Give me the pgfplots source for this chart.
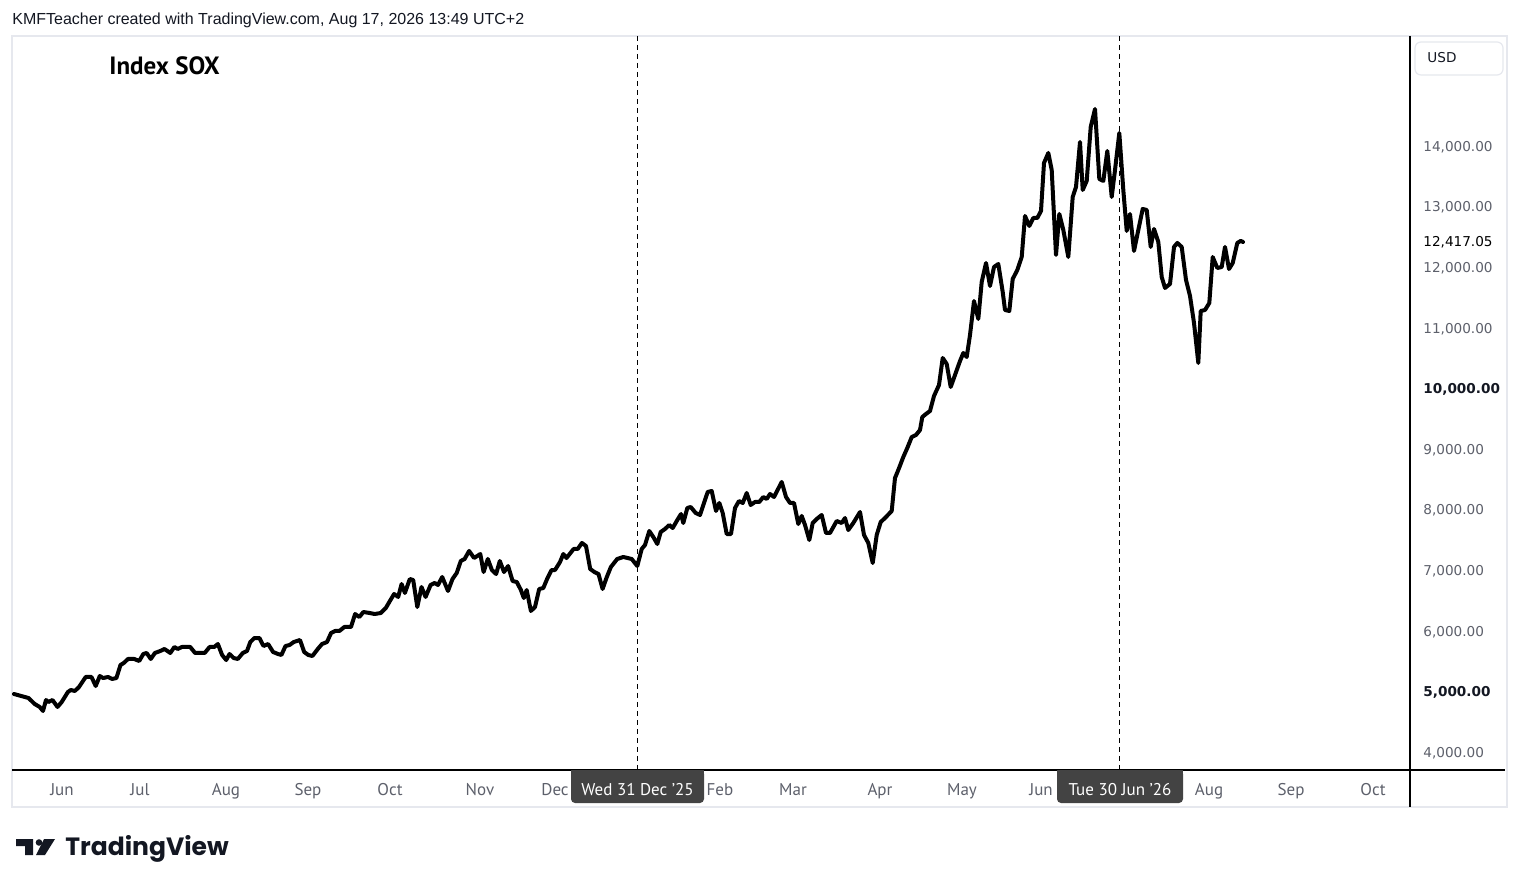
\documentclass[border=0pt]{standalone}
\usepackage{pgfplots}
\pgfplotsset{compat=1.18}
\usepackage{pgfplotstable}
\usepackage{fontspec}
\setmainfont{PT Sans}
\newfontfamily\dejavu{DejaVu Sans}
\newfontfamily\libsans{Liberation Sans}
\newfontfamily\poppins{Poppins}
\definecolor{tvgray}{HTML}{5D606B}
\definecolor{tvdark}{HTML}{131722}
\definecolor{tvbox}{HTML}{434343}
\definecolor{tvborder}{HTML}{E6E8EE}

\pgfplotstableread{
x y
14 4957
28.5 4891
34.7 4792
39.7 4743
43 4677
46 4858
48.4 4825
52.5 4858
57.5 4743
61.7 4825
67.9 4990
70.8 5023
74.9 5007
79 5073
85.7 5238
91.5 5238
95.7 5089
99.8 5254
103.1 5221
108.1 5238
112.2 5205
116.4 5221
120.5 5436
123.8 5469
128 5535
134.2 5535
139.2 5502
143.3 5617
146.6 5634
150.8 5535
154.9 5634
160.3 5667
164.5 5700
170.3 5634
174.4 5733
177.7 5700
181.9 5733
190.2 5733
195.1 5634
204.7 5634
209.6 5733
214.2 5733
217.9 5782
222.1 5601
226.2 5518
229.5 5617
233.7 5551
237.8 5535
242.8 5634
247 5667
250.3 5815
254.4 5881
259.4 5881
263.5 5749
268.1 5782
273.1 5650
278 5617
281.4 5601
285.5 5749
289.6 5766
293.8 5815
300 5848
304.2 5650
308.3 5601
312.4 5584
317.8 5700
322 5782
327 5815
331.1 5964
335.2 5997
339.4 5997
344.4 6063
351 6063
355.1 6277
359.3 6228
363.4 6310
369.6 6294
374.6 6277
380.8 6294
385.8 6376
389.9 6492
394.1 6607
398.2 6558
401.6 6772
404.9 6624
409.8 6855
413.2 6838
417.3 6393
421.5 6723
425.6 6558
430.6 6756
434.7 6789
438 6756
442.2 6888
448 6657
452.5 6855
456.7 6954
460.8 7152
464.6 7185
469.1 7317
474.1 7201
480.3 7267
483.6 6970
487.8 7185
491.9 7003
496.1 6937
499.8 7152
504 6970
508.1 7069
512.6 6822
516.8 6805
520.9 6673
523.8 6541
526.7 6673
530.9 6327
535 6393
539.2 6690
543.3 6706
547.5 6871
551.6 7003
555 7003
560 7135
563.3 7267
566.5 7201
573.6 7350
577.7 7350
581.9 7449
586 7399
590.2 7020
594.4 6970
598.5 6937
602.6 6690
606.8 6888
610.9 7053
617.2 7185
623.3 7218
631.7 7185
637.3 7069
641.7 7350
645 7416
649.3 7647
653.3 7548
657.3 7432
660.7 7630
665 7680
669.3 7746
672.7 7696
677.3 7828
681 7927
683.3 7779
687.3 8026
690.7 8043
695.7 7944
700 7911
704 8109
707.7 8291
711.7 8307
716 7977
719.3 8109
722.7 7944
726.7 7597
731 7597
735 8026
739 8142
742.7 8109
746.7 8274
750.7 8076
755 8126
759.3 8126
763.3 8208
766.7 8175
770 8258
774 8208
781.7 8456
786 8208
790 8109
794 8109
798.3 7762
801.7 7895
805 7746
809.3 7498
812.7 7779
816.7 7845
821.7 7911
826 7614
830 7614
836.7 7812
841.7 7779
845 7861
848.3 7663
853.3 7779
860 7960
864 7581
868.3 7449
872.7 7119
876.7 7581
880.7 7795
885 7861
891.7 7977
895 8522
898.3 8654
903.3 8868
907.3 9017
911.7 9198
916 9231
920 9314
922.3 9528
926 9578
930 9627
934 9875
939 10056
942.7 10502
946.7 10403
950.7 10023
955 10221
960 10452
963.3 10584
966.7 10518
970 10881
974 11442
978.3 11145
981.7 11756
986 12069
990 11690
994 12003
998.3 12053
1002.7 11591
1005 11294
1009.3 11277
1012.7 11805
1017.3 11954
1021.7 12168
1025 12845
1029.3 12680
1033.3 12812
1037.3 12812
1041 12928
1044 13720
1048.3 13885
1051.7 13604
1056 12202
1059.3 12878
1063.3 12614
1068.3 12168
1072.7 13159
1076 13324
1080 14066
1082.7 13274
1086.7 13423
1090.7 14314
1095 14611
1099.3 13456
1103.3 13423
1107.3 13918
1111.7 13159
1115 13604
1119.3 14215
1123.3 13274
1126.7 12598
1130 12878
1134 12268
1138.3 12614
1142.7 12961
1146.7 12944
1150.7 12334
1154 12631
1158.3 12416
1161.7 11838
1165 11657
1170 11723
1174 12334
1177.3 12400
1181.7 12334
1186 11789
1190 11525
1194 11079
1198.3 10419
1200.7 11277
1205 11294
1209.3 11409
1212.7 12168
1217.3 11987
1221.7 12003
1225 12334
1229 11970
1232.7 12069
1237.3 12400
1240.7 12433
1243 12417
}\sox

\begin{document}
\begin{tikzpicture}
\path[use as bounding box, fill=white] (0,0) rectangle (760pt,444.5pt);
\begin{scope}[x=0.5pt,y=-0.5pt,shift={(0pt,444.5pt)}]
  % pane border
  \draw[tvborder, line width=0.75pt] (12,36) rectangle (1507,807);
  % header
  \node[anchor=base west, inner sep=0pt, text=tvdark, font=\libsans\fontsize{8}{9}\selectfont] at (12,25) {KMFTeacher created with TradingView.com, Aug 17, 2026 13:49 UTC+2};
  \node[anchor=base west, inner sep=0pt, text=black, font=\bfseries\fontsize{12.5}{14}\selectfont] at (109,75) {Index SOX};
  % dashed markers
  \draw[black, line width=0.5pt, dash pattern=on 2.5pt off 2pt] (637,36) -- (637,770);
  \draw[black, line width=0.5pt, dash pattern=on 2.5pt off 2pt] (1119,36) -- (1119,770);
\end{scope}

\begin{axis}[
  at={(7pt,59.5pt)}, anchor=south west,
  scale only axis, width=698pt, height=367pt,
  xmin=14, xmax=1410, ymin=3703, ymax=15815,
  scaled y ticks=false, scaled x ticks=false,
  axis line style={draw=none},
  major tick length=0pt,
  ytick={4000,5000,6000,7000,8000,9000,10000,11000,12000,13000,14000},
  yticklabels={{4,000.00},{\bfseries\color{tvdark}5,000.00},{6,000.00},{7,000.00},{8,000.00},{9,000.00},{\bfseries\color{tvdark}10,000.00},{11,000.00},{12,000.00},{13,000.00},{14,000.00}},
  yticklabel pos=right,
  yticklabel style={anchor=west, inner sep=0pt, xshift=6.5pt, yshift=-0.5pt, text=tvgray, font=\dejavu\fontsize{6.8}{8}\selectfont},
  xtick={62,140,226,308,390,480,555,720,793,880,962,1041,1209,1291,1373},
  xticklabels={Jun,Jul,Aug,Sep,Oct,Nov,Dec,Feb,Mar,Apr,May,Jun,Aug,Sep,Oct},
  xticklabel style={anchor=base, inner sep=0pt, yshift=-12.5pt, text=tvgray, font=\fontsize{8.5}{10}\selectfont},
  clip=false,
]
\addplot[black, line width=2pt, line join=round, line cap=round] table[x=x,y=y] {\sox};
\end{axis}

\begin{scope}[x=0.5pt,y=-0.5pt,shift={(0pt,444.5pt)}]
  % axis lines
  \draw[black, line width=0.6pt] (12,770) -- (1505,770);
  \draw[black, line width=0.6pt] (1410,36) -- (1410,807);
  % date boxes
  \fill[tvbox, rounded corners=2pt] (571,770) -- (571,803) -- (704,803) -- (704,770) -- cycle;
  \fill[tvbox] (571,770) rectangle (704,780);
  \node[anchor=base, inner sep=0pt, text=white, font=\fontsize{8.5}{10}\selectfont] at (637.5,795) {Wed 31 Dec '25};
  \fill[tvbox, rounded corners=2pt] (1057,770) -- (1057,803) -- (1183,803) -- (1183,770) -- cycle;
  \fill[tvbox] (1057,770) rectangle (1183,780);
  \node[anchor=base, inner sep=0pt, text=white, font=\fontsize{8.5}{10}\selectfont] at (1120,795) {Tue 30 Jun '26};
  % USD box
  \draw[tvborder, line width=0.6pt, rounded corners=3pt] (1415,42) rectangle (1503,75);
  \node[anchor=base west, inner sep=0pt, text=tvdark, font=\dejavu\fontsize{6.8}{8}\selectfont] at (1427,63) {USD};
  % last value
  \node[anchor=west, inner sep=0pt, text=black, font=\dejavu\fontsize{6.8}{8}\selectfont] at (1423,242) {12,417.05};
  % TradingView logo
  \fill[tvdark] (16,839) -- (33,839) -- (33,855) -- (25,855) -- (25,846) -- (16,846) -- cycle;
  \fill[tvdark] (39,842.5) circle (3.3);
  \fill[tvdark] (44,839) -- (55,839) -- (45,855) -- (36,855) -- cycle;
  \node[anchor=base west, inner sep=0pt, text=tvdark, font=\poppins\bfseries\fontsize{12.5}{14}\selectfont] at (65,855) {TradingView};
\end{scope}
\end{tikzpicture}
\end{document}
